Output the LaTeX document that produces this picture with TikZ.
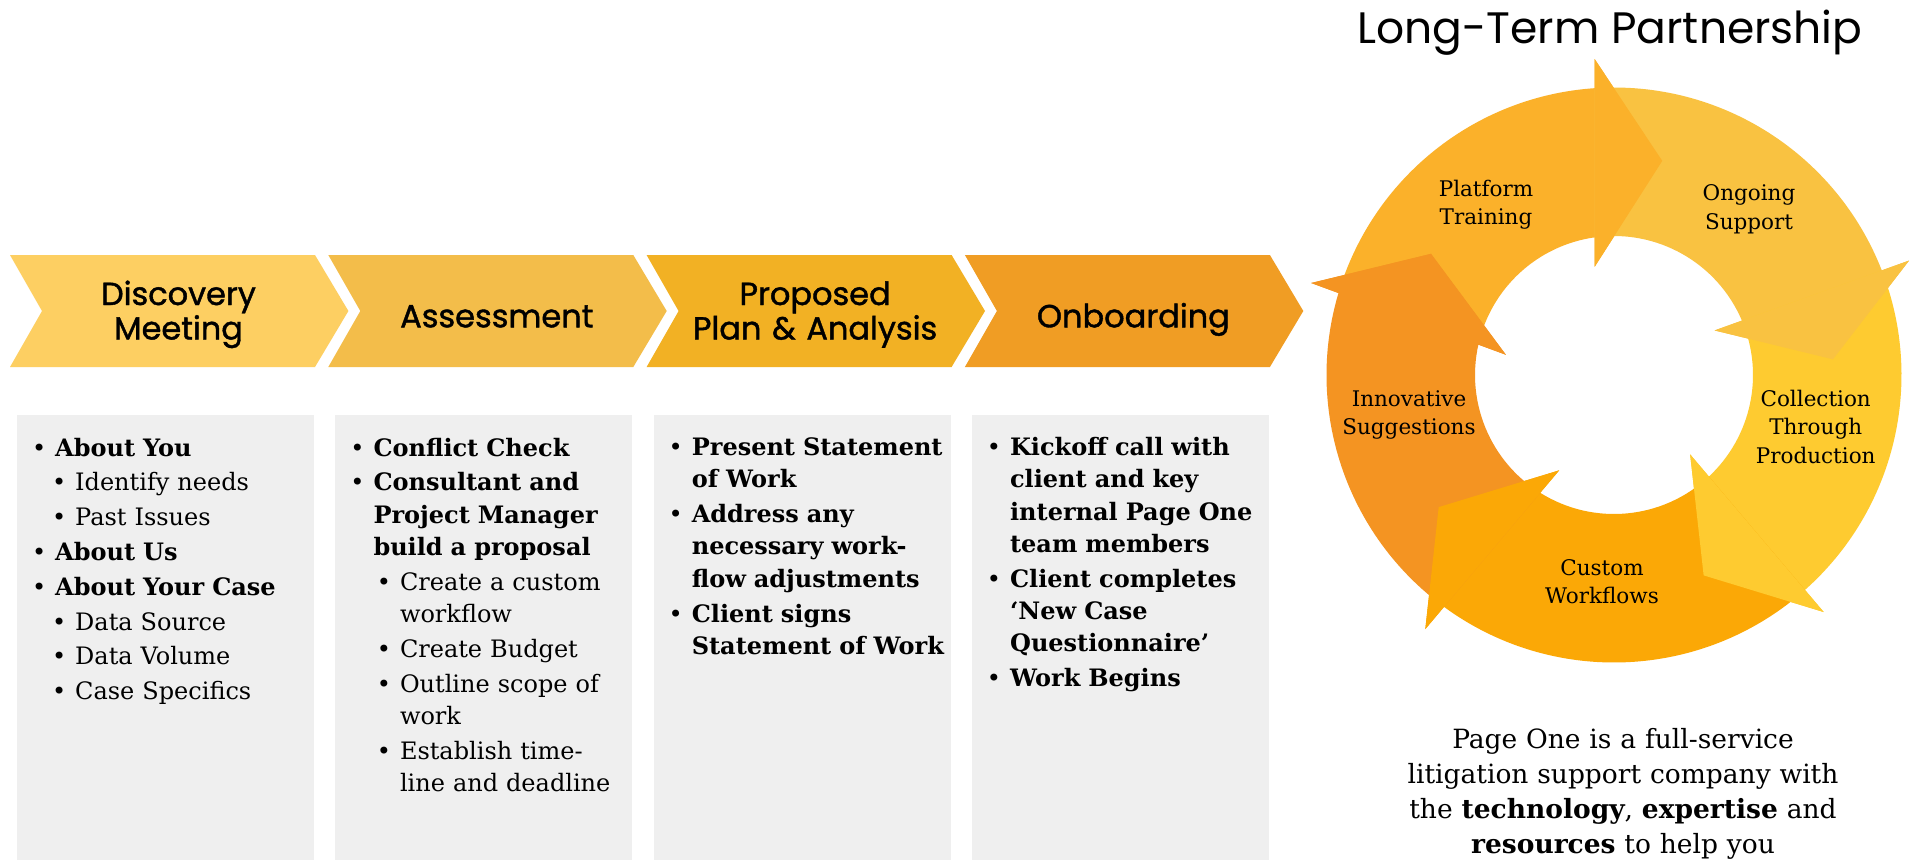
\documentclass[tikz,border=0pt]{standalone}
\usepackage{fontspec}
\setmainfont{DejaVu Serif}
\newfontfamily\popfont{Poppins}
\newfontfamily\popmed{Poppins}[FakeBold=1.3]

\definecolor{chA}{HTML}{FDCF62}
\definecolor{chB}{HTML}{F3BD4A}
\definecolor{chC}{HTML}{F2B124}
\definecolor{chD}{HTML}{F09D24}
\definecolor{boxgray}{HTML}{EFEFEF}
\definecolor{rPlat}{HTML}{FBB12A}
\definecolor{rOngo}{HTML}{F9C241}
\definecolor{rColl}{HTML}{FECB30}
\definecolor{rCust}{HTML}{FBA806}
\definecolor{rInno}{HTML}{F49422}

\newenvironment{blist}[2]{\begin{list}{\llap{\textbullet\hspace{9pt}}}{%
  \setlength{\leftmargin}{#1}\setlength{\labelwidth}{0pt}\setlength{\labelsep}{0pt}%
  \setlength{\itemsep}{2.5pt}\setlength{\parsep}{0pt}\setlength{\topsep}{#2}%
  \setlength{\partopsep}{0pt}\setlength{\itemindent}{0pt}\setlength{\rightmargin}{0pt}%
  \setlength{\listparindent}{0pt}}}{\end{list}}

% chevron: left x, colour
\newcommand{\chevshape}[2]{\fill[#2] (#1,255) -- ++(305,0) -- ++(33.4,56) -- ++(-33.4,56) -- ++(-305,0) -- ++(32,-56) -- cycle;}
% ring arrow: #1 prev outer cross, #2 prev inner cross, #3 outer barb, #4 tip, #5 inner barb,
% #6 own outer cross, #7 own inner cross, #8 colour
\newcommand{\ringbody}[8]{\fill[#8] (#1:287.5) arc[start angle=#1, end angle=#6, radius=287.5]
  -- (#3:316.5) -- (#4:219.5) -- (#5:110) -- (#7:139)
  arc[start angle=#7, end angle=#2, radius=139] -- cycle;}
\newcommand{\ringhead}[4]{\fill[#4] (#1:316.5) -- (#2:219.5) -- (#3:110) -- cycle;}

\begin{document}
\begin{tikzpicture}[x=1pt,y=-1pt,
  chevtext/.style={font=\popmed\fontsize{32}{34.5}\selectfont, text width=280pt, align=center, anchor=base, inner sep=0pt},
  listnode/.style={font=\fontsize{24}{32.3}\selectfont, text width=330pt, align=left, anchor=base west, inner sep=0pt},
  ringlabel/.style={font=\fontsize{21.5}{28.3}\selectfont, text width=220pt, align=center, anchor=base, inner sep=0pt},
  tagline/.style={font=\fontsize{26.5}{35}\selectfont, text width=540pt, align=center, anchor=base, inner sep=0pt},
  titletext/.style={font=\popfont\fontsize{44}{50}\selectfont, anchor=base, inner sep=0pt}
]
\useasboundingbox (0,0) rectangle (1915,860);
\fill[white] (0,0) rectangle (1915,860);

% chevrons
\chevshape{10}{chA}
\chevshape{328.3}{chB}
\chevshape{646.6}{chC}
\chevshape{964.9}{chD}
\node[chevtext] (c1) at (178.5,305) {Discovery\\Meeting};
\node[chevtext] (c2) at (496.8,327.3) {Assessment};
\node[chevtext] (c3) at (815.1,305) {Proposed\\Plan \& Analysis};
\node[chevtext] (c4) at (1133.4,327.3) {Onboarding};

% grey boxes
\fill[boxgray] (17,415) rectangle ++(297,445);
\fill[boxgray] (335.3,415) rectangle ++(297,445);
\fill[boxgray] (653.6,415) rectangle ++(297,445);
\fill[boxgray] (971.9,415) rectangle ++(297,445);

\node[listnode] (b1) at (17,423.7) {%
\begin{blist}{38pt}{0pt}
\item \textbf{About You}
  \begin{blist}{20pt}{2.5pt}\item Identify needs \item Past Issues\end{blist}
\item \textbf{About Us}
\item \textbf{About Your Case}
  \begin{blist}{20pt}{2.5pt}\item Data Source \item Data Volume \item Case Specifics\end{blist}
\end{blist}};

\node[listnode] (b2) at (335.3,423.7) {%
\begin{blist}{38pt}{0pt}
\item \textbf{Conflict Check}
\item \textbf{Consultant and\\ Project Manager\\ build a proposal}
  \begin{blist}{26.5pt}{2.5pt}
  \item Create a custom\\ workflow
  \item Create Budget
  \item Outline scope of\\ work
  \item Establish time-\\ line and deadline
  \end{blist}
\end{blist}};

\node[listnode] (b3) at (653.6,423.2) {%
\begin{blist}{38pt}{0pt}
\item \textbf{Present Statement\\ of Work}
\item \textbf{Address any\\ necessary work-\\ flow adjustments}
\item \textbf{Client signs\\ Statement of Work}
\end{blist}};

\node[listnode] (b4) at (971.9,423.2) {%
\begin{blist}{38pt}{0pt}
\item \textbf{Kickoff call with\\ client and key\\ internal Page One\\ team members}
\item \textbf{Client completes\\ ‘New Case\\ Questionnaire’}
\item \textbf{Work Begins}
\end{blist}};

% cycle
\node[titletext] (title) at (1610,43.5) {Long-Term Partnership};
\begin{scope}[shift={(1614,375)}, y=1pt]
  \ringbody{163.43}{167.37}{93.5}{77.3}{100.1}{93.85}{97.98}{rPlat}
  \ringbody{93.85}{97.98}{21.2}{4.1}{23.9}{21.34}{23.04}{rOngo}
  \ringbody{21.34}{23.04}{-48.5}{-65.9}{-46.2}{-48.38}{-46.94}{rColl}
  \ringbody{-48.38}{-46.94}{-126.6}{-143.0}{-119.9}{-126.25}{-122.06}{rCust}
  \ringbody{-126.25}{-122.06}{-196.9}{-213.5}{-190.6}{-196.57}{-192.63}{rInno}
  \ringhead{93.5}{77.3}{100.1}{rPlat}
  \ringhead{21.2}{4.1}{23.9}{rOngo}
  \ringhead{-48.5}{-65.9}{-46.2}{rColl}
  \ringhead{-126.6}{-143.0}{-119.9}{rCust}
  \ringhead{-196.9}{-213.5}{-190.6}{rInno}
\end{scope}
\node[ringlabel] (r1) at (1486,196.4) {Platform\\Training};
\node[ringlabel] (r2) at (1749,200.7) {Ongoing\\Support};
\node[ringlabel] (r3) at (1815.7,406.6) {Collection\\Through\\Production};
\node[ringlabel] (r4) at (1602,575.3) {Custom\\Workflows};
\node[ringlabel] (r5) at (1409,406.6) {Innovative\\Suggestions};

\node[tagline] (tag) at (1623,748.3) {Page One is a full-service\\ litigation support company with\\ the \textbf{technology}, \textbf{expertise} and\\ \textbf{resources} to help you};
\end{tikzpicture}
\end{document}
